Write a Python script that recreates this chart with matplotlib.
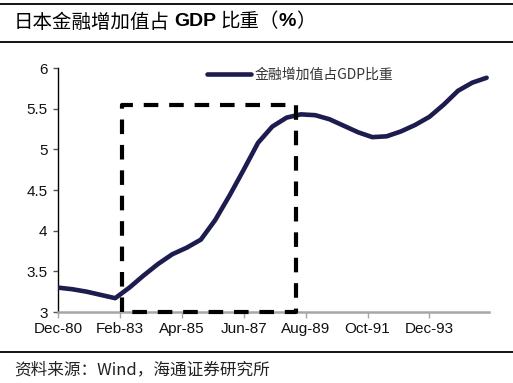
import numpy as np
import matplotlib.pyplot as plt
from matplotlib.lines import Line2D

plt.rcParams['font.family'] = ['Liberation Sans', 'Noto Sans CJK SC', 'DejaVu Sans']

# months counted from Dec-80, every half year
months = [0, 6, 12, 18, 24, 30, 36, 42, 48, 54, 60, 66, 72, 78, 84, 90, 96,
          102, 108, 114, 120, 126, 132, 138, 144, 150, 156, 162, 168, 174, 180]
share = [3.30, 3.28, 3.25, 3.21, 3.17, 3.30, 3.45, 3.59, 3.71, 3.79, 3.89,
         4.13, 4.43, 4.75, 5.08, 5.28, 5.39, 5.43, 5.42, 5.37, 5.29, 5.21,
         5.15, 5.16, 5.22, 5.30, 5.40, 5.55, 5.72, 5.82, 5.88]

tick_months = [0, 26, 52, 78, 104, 130, 156]
tick_labels = ['Dec-80', 'Feb-83', 'Apr-85', 'Jun-87', 'Aug-89', 'Oct-91', 'Dec-93']
y_ticks = [3, 3.5, 4, 4.5, 5, 5.5, 6]
y_labels = ['3', '3.5', '4', '4.5', '5', '5.5', '6']

# highlighted period (dashed box)
box_left, box_right = 27, 100
box_bottom, box_top = 3.0, 5.55

fig = plt.figure(figsize=(5.13, 3.83), dpi=100)
ax = fig.add_axes([58/513, 1-312/383, (489-58)/513, (312-68)/383])

ax.plot(months, share, color='#1c1c4e', lw=3.3, solid_capstyle='round',
        solid_joinstyle='round', label='金融增加值占GDP比重', zorder=3)

ax.plot([box_left, box_left, box_right, box_right, box_left],
        [box_bottom, box_top, box_top, box_bottom, box_bottom],
        color='black', lw=3.0, dashes=(3.5, 2.6), zorder=4, clip_on=False)

ax.set_xlim(0, 181)
ax.set_ylim(3, 6)
ax.set_xticks(tick_months)
ax.set_xticklabels(tick_labels, fontsize=11, family='Liberation Sans', color='#111111')
ax.set_yticks(y_ticks)
ax.set_yticklabels(y_labels, fontsize=11, family='Liberation Sans', color='#111111')

for s in ['top', 'right']:
    ax.spines[s].set_visible(False)
ax.spines['left'].set_color('black')
ax.spines['left'].set_linewidth(1.0)
ax.spines['bottom'].set_color('#a6a6a6')
ax.spines['bottom'].set_linewidth(1.8)
ax.tick_params(axis='y', direction='out', length=3.5, width=1, color='#555555', pad=4)
ax.tick_params(axis='x', direction='out', length=4, width=1, color='#a6a6a6', pad=3.5)

leg = ax.legend(loc='center left', bbox_to_anchor=(207/513, 1-75/383),
                bbox_transform=fig.transFigure, frameon=False, borderpad=0,
                borderaxespad=0, handlelength=3.2, handletextpad=0.25,
                prop={'family': 'Noto Sans CJK SC', 'size': 10})
for t in leg.get_texts():
    t.set_color('#333333')

# header / footer rules
for yy in [4, 42, 352]:
    fig.add_artist(Line2D([0, 1], [1-yy/383, 1-yy/383], color='black', lw=1.3,
                          transform=fig.transFigure))

# title pieces chained one after another
title_parts = [('日本金融增加值占', 'Noto Sans CJK SC', 'normal', 0),
               ('GDP', 'Liberation Sans', 'bold', 4),
               ('比重（', 'Noto Sans CJK SC', 'normal', 4),
               ('%', 'Liberation Sans', 'bold', 0),
               ('）', 'Noto Sans CJK SC', 'normal', 0)]
prev = fig.text(14/513, 1-22/383, title_parts[0][0], fontsize=14,
                family=title_parts[0][1], va='center')
for txt, fam, wt, gap in title_parts[1:]:
    prev = ax.annotate(txt, xy=(1, 0.5), xycoords=prev, xytext=(gap, 0),
                       textcoords='offset pixels', va='center', ha='left',
                       fontsize=14, family=fam, weight=wt, annotation_clip=False)

fig.text(14/513, 1-370/383, '资料来源：Wind，海通证券研究所', fontsize=12,
         family=['Noto Sans CJK SC', 'DejaVu Sans'], va='center', color='#222222')

fig.savefig('out.png', dpi=100)
